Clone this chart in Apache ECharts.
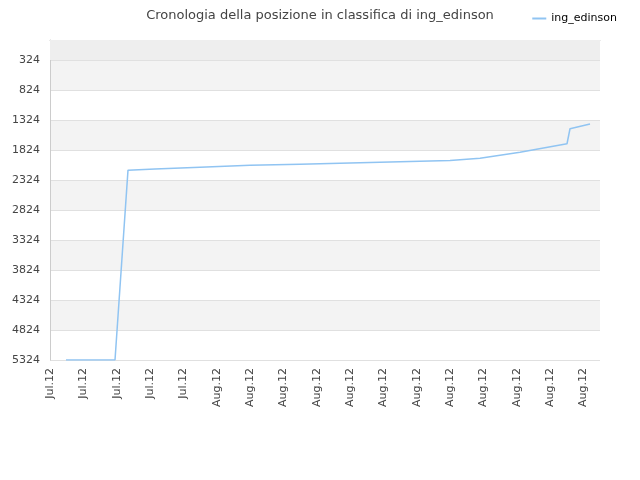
<!DOCTYPE html>
<html><head><meta charset="utf-8">
<script src="https://cdn.jsdelivr.net/npm/echarts@6/dist/echarts.min.js"></script>
<style>html,body{margin:0;padding:0;background:#fff}#c{width:640px;height:480px}</style>
</head><body><div id="c"></div>
<script>
const xLabels = ['Jul.12','Jul.12','Jul.12','Jul.12','Jul.12','Aug.12','Aug.12','Aug.12','Aug.12','Aug.12','Aug.12','Aug.12','Aug.12','Aug.12','Aug.12','Aug.12','Aug.12'];
const yTicks = [324,824,1324,1824,2324,2824,3324,3824,4324,4824,5324];
const posX = [0.48,1.95,2.34,3.15,4.5,6,7.5,9,10.5,12,12.9,14.1,15.51,15.6,16.2];
const rank = [5324,5324,2160,2140,2110,2080,2060,2040,2020,2000,1960,1860,1720,1470,1390];
const chart = echarts.init(document.getElementById('c'));
chart.setOption({
  animation:false,
  title:{text:'Cronologia della posizione in classifica di ing_edinson',left:'center',top:4,textStyle:{fontFamily:'DejaVu Sans',fontSize:13,fontWeight:'normal',color:'#444'}},
  legend:{right:18,top:8,itemWidth:14,itemHeight:2,icon:'rect',textStyle:{fontFamily:'DejaVu Sans',fontSize:11,color:'#000'},data:['ing_edinson']},
  grid:{left:50,right:40,top:40,bottom:120},
  xAxis:{type:'value',min:0,max:16.5,interval:1,
    axisLine:{lineStyle:{color:'#ccc'}},axisTick:{show:false},
    splitLine:{show:false},
    axisLabel:{rotate:90,color:'#444',fontFamily:'DejaVu Sans',fontSize:11,showMaxLabel:false,
      formatter:v=>Number.isInteger(v)?(xLabels[v]||''):''}},
  yAxis:{type:'value',inverse:true,min:-9,max:5324,
    axisTick:{show:false,customValues:yTicks},
    axisLabel:{customValues:yTicks,color:'#444',fontFamily:'DejaVu Sans',fontSize:11,margin:10,formatter:v=>String(v)},
    axisLine:{show:true,lineStyle:{color:'#ccc'}},
    splitLine:{show:true,lineStyle:{color:'#e0e0e0'}},
    splitArea:{show:true,areaStyle:{color:['#f3f3f3','#ffffff']}}},
  series:[{name:'ing_edinson',type:'line',showSymbol:false,symbol:'none',
    data:posX.map((x,i)=>[x,rank[i]]),
    lineStyle:{color:'#90c4f2',width:1.5},itemStyle:{color:'#90c4f2'},
    markArea:{silent:true,itemStyle:{color:'#eeeeee'},data:[[{yAxis:-9},{yAxis:324}]]}}]
});
</script></body></html>
